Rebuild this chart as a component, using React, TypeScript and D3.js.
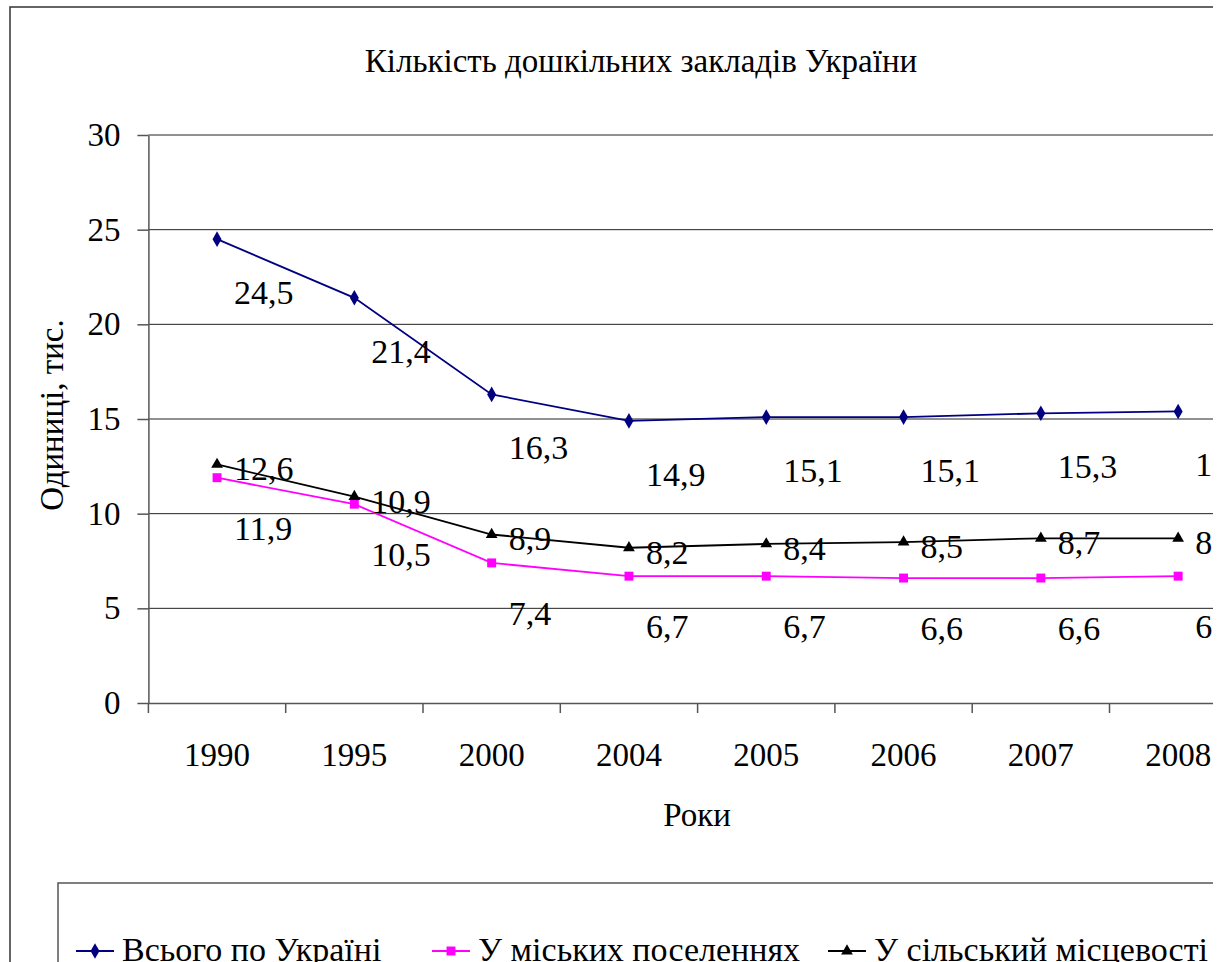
import React, { useEffect, useRef } from 'react';
import * as d3 from 'd3';

const years = ['1990', '1995', '2000', '2004', '2005', '2006', '2007', '2008'];
const totalValues = [24.5, 21.4, 16.3, 14.9, 15.1, 15.1, 15.3, 15.4];
const urbanValues = [11.9, 10.5, 7.4, 6.7, 6.7, 6.6, 6.6, 6.7];
const ruralValues = [12.6, 10.9, 8.9, 8.2, 8.4, 8.5, 8.7, 8.7];
const yTicks = [0, 5, 10, 15, 20, 25, 30];
const seriesNames = ['Всього по Україні', 'У міських поселеннях', 'У сільський місцевості'];

const FONT = '"Liberation Serif", "Times New Roman", serif';

const App = () => {
  const svgRef = useRef<SVGSVGElement>(null);

  useEffect(() => {
    const W = 1220;
    const H = 962;
    const root = d3.select(svgRef.current).attr('width', W).attr('height', H);
    root.selectAll('*').remove();

    // the chart picture ends a few pixels before the right edge
    root.append('defs').append('clipPath').attr('id', 'pageClip')
      .append('rect').attr('x', 0).attr('y', 0).attr('width', 1213).attr('height', H);
    const svg = root.append('g').attr('clip-path', 'url(#pageClip)');

    const left = 148.4;
    const step = 137.3;
    const top = 135;
    const bottom = 703;

    const x = d3.scaleBand().domain(years).range([left, left + step * years.length]);
    const y = d3.scaleLinear().domain([0, 30]).range([bottom, top]);
    const cx = (d: string) => (x(d) as number) + x.bandwidth() / 2;

    // outer chart frame
    svg.append('rect')
      .attr('x', 10).attr('y', 7)
      .attr('width', 1300).attr('height', 1100)
      .attr('fill', '#fff').attr('stroke', '#333').attr('stroke-width', 1.5);

    // title
    svg.append('text')
      .attr('x', 641).attr('y', 72)
      .attr('text-anchor', 'middle')
      .style('font-family', FONT).style('font-size', '33px')
      .text('Кількість дошкільних закладів України');

    // gridlines
    svg.append('g')
      .selectAll('line')
      .data(yTicks.filter(t => t > 0))
      .enter().append('line')
      .attr('x1', left).attr('x2', x.range()[1])
      .attr('y1', d => y(d)).attr('y2', d => y(d))
      .attr('stroke', '#222').attr('stroke-width', 1);

    // y axis
    const yAxis = svg.append('g')
      .attr('transform', `translate(${left},0)`)
      .call(d3.axisLeft(y).tickValues(yTicks).tickSize(11).tickPadding(17).tickSizeOuter(0));
    yAxis.select('.domain').attr('stroke', '#555').attr('stroke-width', 1.5);
    yAxis.selectAll('.tick line').attr('stroke', '#555').attr('stroke-width', 1.5);
    yAxis.selectAll('.tick text')
      .style('font-family', FONT).style('font-size', '33px').attr('fill', '#000');

    // x axis
    const xAxis = svg.append('g')
      .attr('transform', `translate(0,${bottom})`)
      .call(d3.axisBottom(x).tickSize(0).tickPadding(40).tickSizeOuter(0));
    xAxis.select('.domain').attr('stroke', '#555').attr('stroke-width', 1.5);
    xAxis.selectAll('.tick text')
      .style('font-family', FONT).style('font-size', '33px').attr('fill', '#000');
    xAxis.selectAll('.boundary')
      .data(d3.range(years.length + 1))
      .enter().append('line')
      .attr('class', 'boundary')
      .attr('x1', i => left + i * step).attr('x2', i => left + i * step)
      .attr('y1', 0).attr('y2', 10)
      .attr('stroke', '#555').attr('stroke-width', 1.5);

    // axis titles
    svg.append('text')
      .attr('x', 697).attr('y', 826)
      .attr('text-anchor', 'middle')
      .style('font-family', FONT).style('font-size', '33px')
      .text('Роки');

    svg.append('text')
      .attr('transform', 'translate(63,415) rotate(-90)')
      .attr('text-anchor', 'middle')
      .style('font-family', FONT).style('font-size', '33px')
      .text('Одиниці, тис.');

    const series = [
      { name: seriesNames[0], values: totalValues, color: '#000080', marker: d3.symbolDiamond, size: 70, labelDy: 53 },
      { name: seriesNames[1], values: urbanValues, color: '#FF00FF', marker: d3.symbolSquare, size: 80, labelDy: 50 },
      { name: seriesNames[2], values: ruralValues, color: '#000000', marker: d3.symbolTriangle, size: 60, labelDy: 4 },
    ];

    const line = d3.line<number>()
      .x((d, i) => cx(years[i]))
      .y(d => y(d));

    series.forEach(s => {
      svg.append('path')
        .datum(s.values)
        .attr('fill', 'none')
        .attr('stroke', s.color)
        .attr('stroke-width', 1.8)
        .attr('d', line);

      svg.selectAll(null)
        .data(s.values)
        .enter().append('path')
        .attr('transform', (d, i) => `translate(${cx(years[i])},${y(d)})`)
        .attr('d', d3.symbol().type(s.marker).size(s.size)())
        .attr('fill', s.color);

      svg.selectAll(null)
        .data(s.values)
        .enter().append('text')
        .attr('x', (d, i) => cx(years[i]) + 17)
        .attr('y', d => y(d) + s.labelDy)
        .attr('dy', '0.35em')
        .style('font-family', FONT).style('font-size', '34px')
        .text(d => d.toFixed(1).replace('.', ','));
    });

    // legend
    svg.append('rect')
      .attr('x', 58).attr('y', 883)
      .attr('width', 1300).attr('height', 200)
      .attr('fill', 'none').attr('stroke', '#555').attr('stroke-width', 1.5);

    const legendX = [76, 432, 828];
    series.forEach((s, i) => {
      const g = svg.append('g').attr('transform', `translate(${legendX[i]},951)`);
      g.append('line')
        .attr('x1', 0).attr('x2', 38)
        .attr('stroke', s.color).attr('stroke-width', 1.8);
      g.append('path')
        .attr('transform', 'translate(19,0)')
        .attr('d', d3.symbol().type(s.marker).size(s.size)())
        .attr('fill', s.color);
      g.append('text')
        .attr('x', 46).attr('y', 0)
        .attr('dy', '0.3em')
        .style('font-family', FONT).style('font-size', '34px')
        .text(s.name);
    });
  }, []);

  return (
    <div style={{ position: 'fixed', left: 0, top: 0 }}>
      <svg ref={svgRef} style={{ display: 'block', background: '#fff' }}></svg>
    </div>
  );
};

export default App;
